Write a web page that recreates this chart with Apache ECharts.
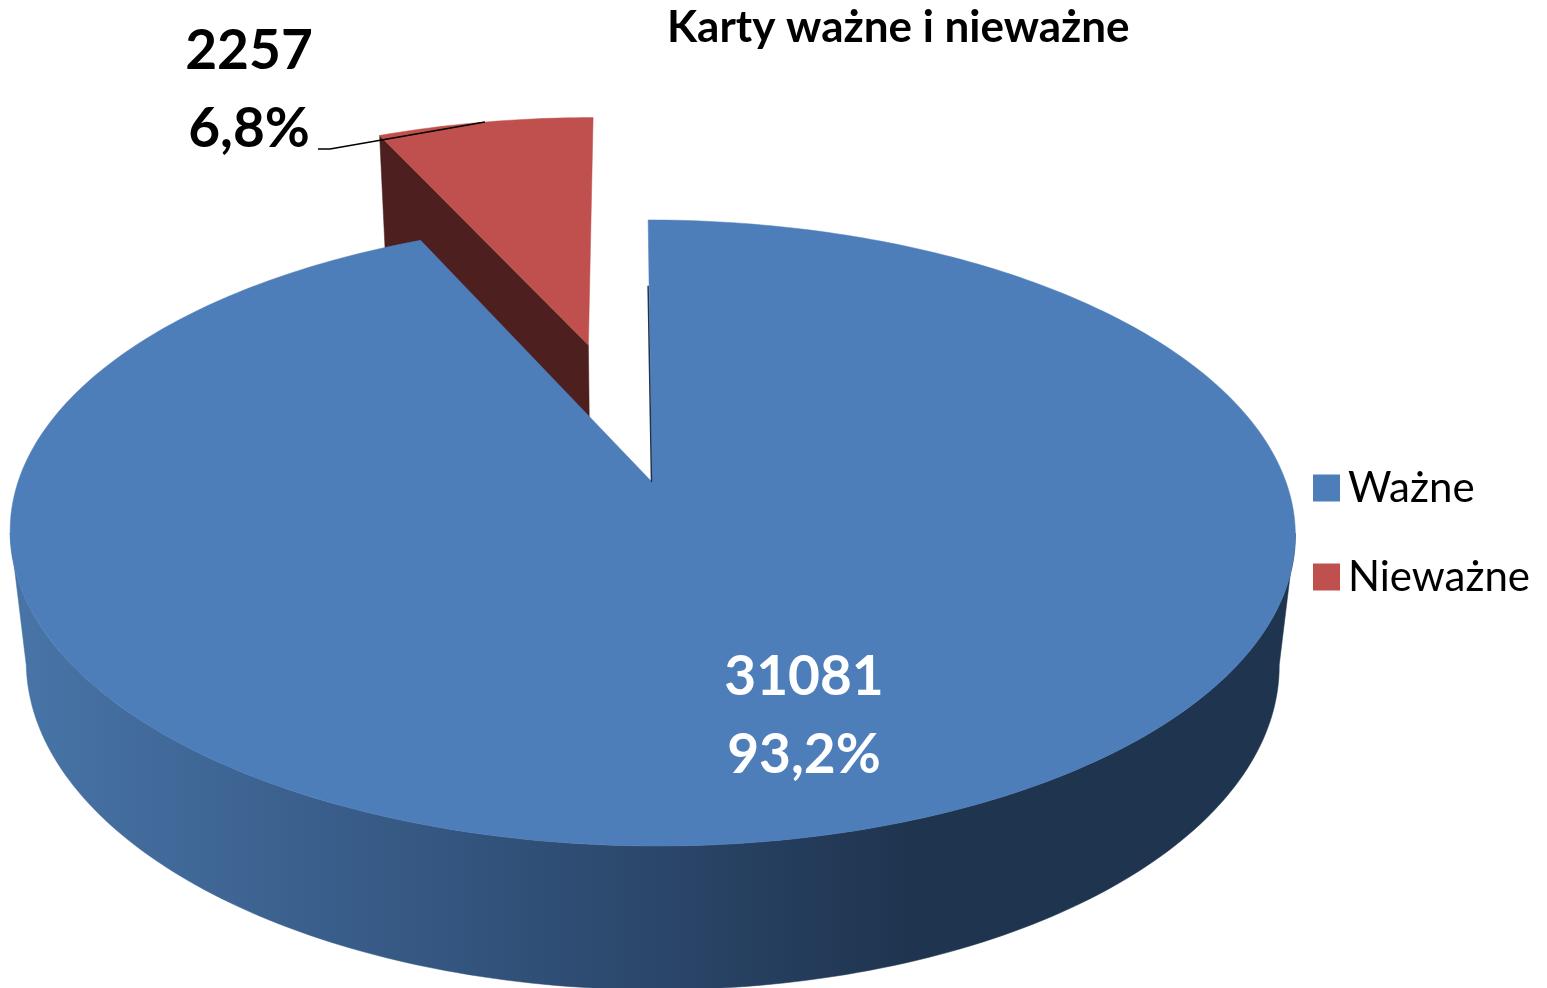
<!DOCTYPE html>
<html>
<head>
<meta charset="utf-8">
<style>html,body{margin:0;padding:0;background:#fff}#c{width:1547px;height:988px}</style>
<script src="https://cdn.jsdelivr.net/npm/echarts@6/dist/echarts.min.js"></script>
</head>
<body>
<div id="c"></div>
<script>
const categories = ['Ważne', 'Nieważne'];
const cardCounts = [31081, 2257];
const sliceColors = ['#4e7eb9', '#bf504d'];
const chartTitle = 'Karty ważne i nieważne';
const FONT = 'Lato, "Noto Sans", sans-serif';

const total = cardCounts.reduce((a, b) => a + b, 0);
const share = v => v / total;
const pctText = v => (share(v) * 100).toFixed(1).replace('.', ',') + '%';

// perspective projection of the 3D pie (u right, v away from viewer, h downward)
const P = {x0: 652, y0: 482, R: 634, S: 304.7, k: 0.1629, m: 0.025, T: 133, s: -4.5};
function project(u, v, h) {
  const w = 1 + P.m * h + P.k * v;
  return [P.x0 + (P.R * u + P.s * v) / w, P.y0 + (-P.S * v + P.T * h) / w];
}
// point at angle a (clockwise from top), radius r, shifted by explosion (du,dv)
function pt(a, r, h, du, dv) {
  return project(r * Math.sin(a) + (du || 0), r * Math.cos(a) + (dv || 0), h);
}
function arc(a0, a1, h, du, dv) {
  const n = Math.max(2, Math.ceil(Math.abs(a1 - a0) / (Math.PI / 180)));
  const out = [];
  for (let i = 0; i <= n; i++) out.push(pt(a0 + (a1 - a0) * i / n, 1, h, du, dv));
  return out;
}
const TAU = Math.PI * 2;
const poly = (points, fill) => ({type: 'polygon', shape: {points}, style: {fill, stroke: fill, lineWidth: 0.5}});
const label = (text, x, y, fill, size) => ({
  type: 'text', style: {text, x, y, fill, font: 'bold ' + size + 'px ' + FONT, textAlign: 'center', textVerticalAlign: 'middle'}
});

const wallGradient = new echarts.graphic.LinearGradient(30, 0, 1290, 0, [
  {offset: 0, color: '#4773a6'}, {offset: 0.37, color: '#32527b'},
  {offset: 0.70, color: '#1f344f'}, {offset: 1, color: '#1f344f'}
], true);

function renderValid(params, api) {
  const v = api.value(0);
  const end = share(v) * TAU;
  const side = Math.acos(-P.k);
  const wall = arc(side, TAU - side, 0).concat(arc(TAU - side, side, 1));
  const top = [pt(0, 0, 0)].concat(arc(0, end, 0));
  return {type: 'group', children: [
    poly(wall, wallGradient),
    poly(top, sliceColors[0]),
    {type: 'line', shape: {x1: pt(0, 0.72, 0)[0] - 1, y1: pt(0, 0.72, 0)[1], x2: pt(0, 0, 0)[0] - 0.5, y2: pt(0, 0, 0)[1]},
     style: {stroke: '#1f344f', lineWidth: 1.5}},
    label(String(v), 804, 677, '#fff', 55),
    label(pctText(v), 804, 755, '#fff', 55)
  ]};
}

function renderInvalid(params, api) {
  const v = api.value(0);
  const a0 = -share(v) * TAU, a1 = 0, mid = (a0 + a1) / 2;
  const d = 0.4965, du = Math.sin(mid) * d, dv = Math.cos(mid) * d;
  const apexTop = pt(0, 0, 0, du, dv), apexBot = pt(0, 0, 1, du, dv);
  const leftTop = pt(a0, 1, 0, du, dv), leftBot = pt(a0, 1, 1, du, dv);
  const rim = pt(mid, 1, 0, du, dv);
  return {type: 'group', children: [
    poly([leftTop, apexTop, apexBot, leftBot], '#4d1f1f'),
    poly([apexTop].concat(arc(a0, a1, 0, du, dv)), sliceColors[1]),
    {type: 'polyline', shape: {points: [rim, [330, 149], [318, 149]]}, style: {stroke: '#000', lineWidth: 1.5, fill: null}},
    label(String(v), 249, 51, '#000', 55),
    label(pctText(v), 249, 129, '#000', 55)
  ]};
}

const option = {
  backgroundColor: '#fff',
  animation: false,
  title: {text: chartTitle, left: 667, top: 6, padding: 0,
    textStyle: {fontFamily: FONT, fontWeight: 'bold', fontSize: 44, color: '#000'}},
  legend: {
    data: categories, orient: 'vertical', left: 1313, top: 467, padding: 0,
    itemWidth: 27, itemHeight: 27, itemGap: 47, icon: 'rect', selectedMode: false,
    textStyle: {fontFamily: FONT, fontSize: 42, color: '#000', padding: [0, 0, 0, 3]}
  },
  series: [
    {name: categories[1], type: 'custom', coordinateSystem: 'none', renderItem: renderInvalid,
     clip: false, silent: true, itemStyle: {color: sliceColors[1]}, data: [[cardCounts[1]]]},
    {name: categories[0], type: 'custom', coordinateSystem: 'none', renderItem: renderValid,
     clip: false, silent: true, itemStyle: {color: sliceColors[0]}, data: [[cardCounts[0]]]}
  ]
};
const chart = echarts.init(document.getElementById('c'), null, {renderer: 'canvas'});
chart.setOption(option);
</script>
</body>
</html>
